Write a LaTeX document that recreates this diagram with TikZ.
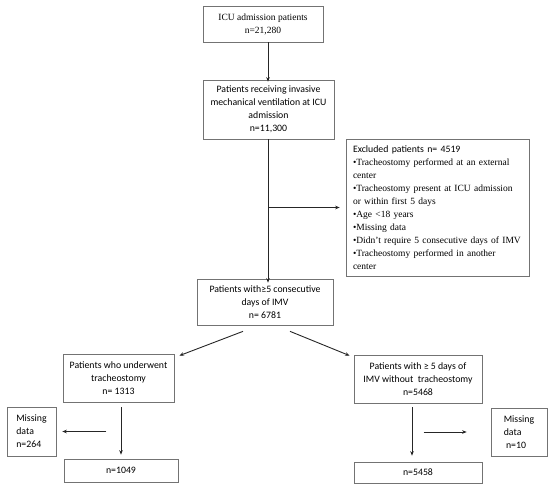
\documentclass[tikz,border=0pt]{standalone}
\usepackage{fontspec}
\setmainfont{Carlito}
\newfontfamily\timesfont{Liberation Serif}
\usetikzlibrary{calc, arrows.meta}

\begin{document}
\begin{tikzpicture}[
		x=1pt, y=-1pt,
		box/.style={draw=black!55, line width=0.7pt, rectangle, align=center, inner sep=3pt, font=\fontsize{9.8}{13}\selectfont},
		smallbox/.style={box, align=left, inner xsep=5pt},
		arr/.style={-{Stealth[length=4.5pt, width=3.6pt]}, line width=0.9pt, draw=black!85},
	]
	\useasboundingbox (0,0) rectangle (550,488);

	% Main chain
	\node[box, minimum width=120pt, minimum height=36pt, font=\timesfont\fontsize{9.5}{13}\selectfont] (icu) at (263,24) {ICU admission patients\\n=21,280};
	\node[box, minimum width=131pt, minimum height=59pt] (imv) at (268.5,109.5) {Patients receiving invasive\\mechanical ventilation at ICU\\admission\\n=11,300};
	\node[box, minimum width=136pt, minimum height=46pt] (days) at (265,302) {Patients with≥5 consecutive\\days of IMV\\n= 6781};

	% Excluded
	\node[box, align=left, text width=169pt, inner xsep=7pt, minimum height=137pt] (excl) at (437.5,207.5) {%
		Excluded patients n= 4519\\
		\timesfont\fontsize{9.5}{13}\selectfont
		•Tracheostomy performed at an external\\
		center\\
		•Tracheostomy present at ICU admission\\
		or within first 5 days\\
		•Age <18 years\\
		•Missing data\\
		•Didn’t require 5 consecutive days of IMV\\
		•Tracheostomy performed in another\\
		center};

	% Groups
	\node[box, minimum width=111pt, minimum height=48pt] (trach) at (118.5,378) {Patients who underwent\\tracheostomy\\n= 1313};
	\node[box, minimum width=128pt, minimum height=48pt] (notrach) at (418,379) {Patients with ≥ 5 days of\\IMV without\ \ tracheostomy\\n=5468};

	% Missing data
	\node[smallbox, minimum width=49pt, minimum height=49pt] (miss1) at (31.5,431.5) {Missing\\data\\n=264};
	\node[smallbox, minimum width=56pt, minimum height=48pt] (miss2) at (519,432) {Missing\\data\\\ n=10};

	% Final
	\node[box, minimum width=114pt, minimum height=23pt] (n1049) at (121,470.5) {n=1049};
	\node[box, minimum width=128pt, minimum height=21pt] (n5458) at (418,472.5) {n=5458};

	% Arrows
	\coordinate (spine) at (268,0);
	\draw[arr] (icu.south -| spine) -- ([yshift=-2pt]imv.north -| spine);
	\draw[arr] (imv.south -| spine) -- ([yshift=-4pt]days.north -| spine);
	\coordinate (branch) at (spine |- excl.west);
	\draw[arr, shorten >=6pt] (branch) -- (excl.west);

	\draw[arr] ($(days.south)+(-22,6)$) -- ($(trach.north east)+(5,2)$);
	\draw[arr] ($(days.south)+(25,6)$) -- ($(notrach.north west)+(-4,1)$);

	\draw[arr, shorten <=5pt, shorten >=4pt] (trach.south -| n1049.north) -- (n1049.north);
	\draw[arr] ($(miss1.east)+(50,0)$) -- ($(miss1.east)+(6,0)$);

	\draw[arr] ($(notrach.south)+(-6,4)$) -- ($(n5458.north)+(-6,-6)$);
	\draw[arr] ($(miss2.west)+(-67,0)$) -- ($(miss2.west)+(-24,0)$);
\end{tikzpicture}
\end{document}
